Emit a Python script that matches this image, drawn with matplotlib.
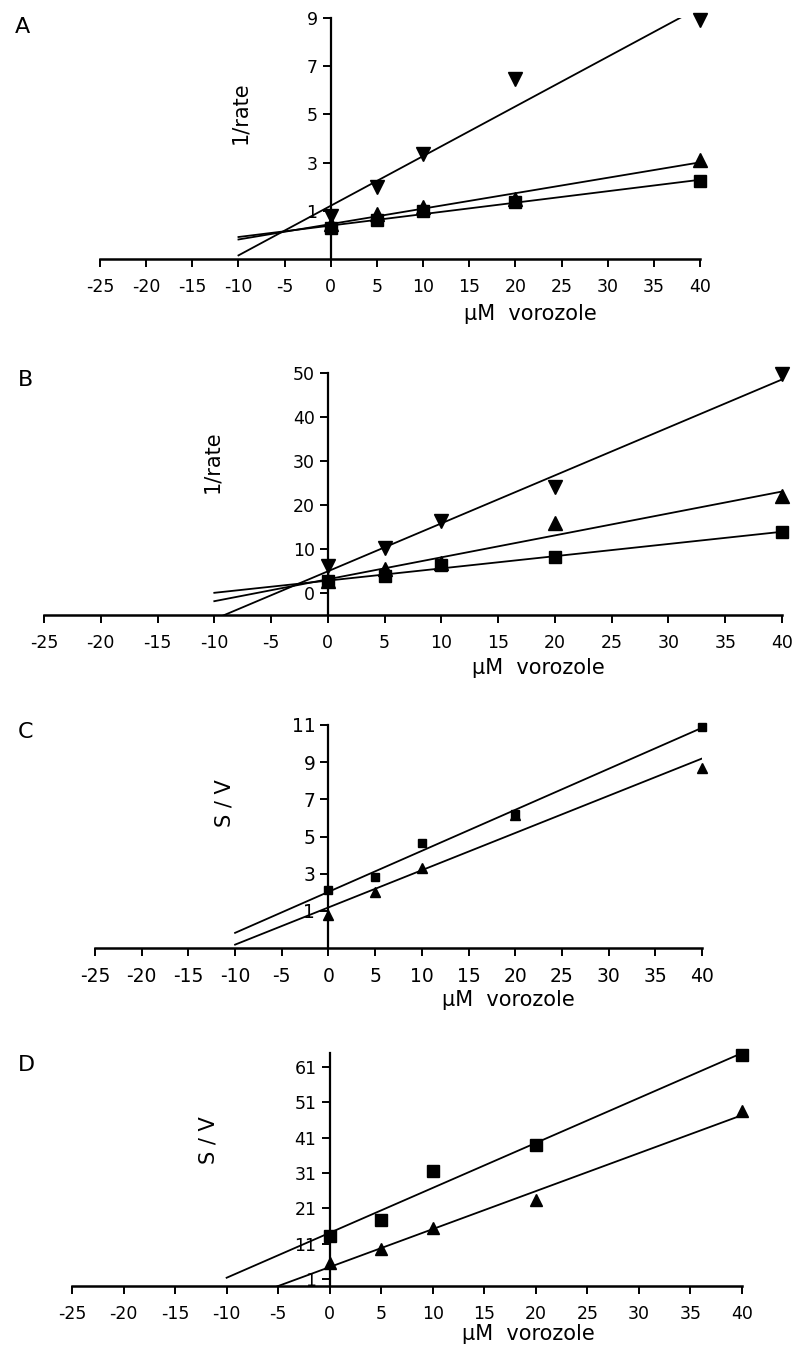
import numpy as np
import matplotlib.pyplot as plt

plt.rcParams['axes.unicode_minus'] = False

# vorozole concentrations (uM)
conc = [0, 5, 10, 20, 40]

# Panel A - 1/rate
a_down = [0.8, 2.0, 3.35, 6.45, 8.9]
a_up = [0.45, 0.85, 1.15, 1.5, 3.1]
a_sq = [0.3, 0.6, 1.0, 1.35, 2.25]

# Panel B - 1/rate
b_down = [6.1, 10.2, 16.3, 24.0, 49.8]
b_up = [2.8, 5.5, 6.8, 15.9, 22.0]
b_sq = [2.7, 3.8, 6.4, 8.1, 13.9]

# Panel C - S/V
c_sq = [2.1, 2.8, 4.66, 6.2, 10.9]
c_up = [0.77, 2.0, 3.3, 6.17, 8.7]

# Panel D - S/V
d_sq = [13.2, 17.6, 31.6, 39.0, 64.4]
d_up = [5.4, 9.6, 15.5, 23.5, 48.5]

xticks = list(range(-25, 45, 5))
a_yticks = [1, 3, 5, 7, 9]
b_yticks = [0, 10, 20, 30, 40, 50]
c_yticks = [1, 3, 5, 7, 9, 11]
d_yticks = [1, 11, 21, 31, 41, 51, 61]

W, H = 800, 1355
fig = plt.figure(figsize=(W / 100, H / 100), dpi=100)


def box(left, top, right, bottom):
    return [left / W, 1 - bottom / H, (right - left) / W, (bottom - top) / H]


def panel(rect, series, ylim, yticks, msize, lsize=12.5):
    ax = fig.add_axes(rect)
    xs = np.array(conc)
    fit_x = np.array([-10, 40])
    for ys, mk, ms in series:
        slope, icpt = np.polyfit(xs, np.array(ys), 1)
        ax.plot(fit_x, slope * fit_x + icpt, color='black', lw=1.3)
        ax.plot(xs, ys, linestyle='none', marker=mk, color='black',
                markersize=ms * msize, clip_on=False, zorder=5)
    ax.set_xlim(-25, 40)
    ax.set_ylim(*ylim)
    ax.set_xticks(xticks)
    ax.set_yticks(yticks)
    ax.spines['left'].set_position(('data', 0))
    ax.spines['top'].set_visible(False)
    ax.spines['right'].set_visible(False)
    ax.spines['left'].set_linewidth(1.6)
    ax.spines['bottom'].set_linewidth(1.8)
    ax.tick_params(direction='out', length=6, width=1.4, labelsize=lsize,
                   colors='black')
    ax.tick_params(axis='x', pad=8)
    ax.patch.set_alpha(0)
    return ax


panel(box(100, 18, 700, 259),
      [(a_down, 'v', 1.0), (a_up, '^', 1.0), (a_sq, 's', 0.85)],
      (-1, 9), a_yticks, 10)
panel(box(44, 373, 782, 615),
      [(b_down, 'v', 1.0), (b_up, '^', 1.0), (b_sq, 's', 0.85)],
      (-5, 50), b_yticks, 10)
panel(box(95, 725, 702, 948),
      [(c_sq, 's', 0.8), (c_up, '^', 1.0)],
      (-1, 11), c_yticks, 7, 13.5)
panel(box(72, 1053, 742, 1286),
      [(d_sq, 's', 1.0), (d_up, '^', 1.0)],
      (-1, 65), d_yticks, 8)

lab = dict(fontsize=15, color='black')
# panel letters
fig.text(15 / W, 1 - 27 / H, 'A', ha='left', va='center', fontsize=16)
fig.text(18 / W, 1 - 380 / H, 'B', ha='left', va='center', fontsize=16)
fig.text(18 / W, 1 - 732 / H, 'C', ha='left', va='center', fontsize=16)
fig.text(18 / W, 1 - 1065 / H, 'D', ha='left', va='center', fontsize=16)

# x labels
fig.text(530 / W, 1 - 314 / H, 'μM  vorozole', ha='center', va='center', **lab)
fig.text(538 / W, 1 - 668 / H, 'μM  vorozole', ha='center', va='center', **lab)
fig.text(508 / W, 1 - 1000 / H, 'μM  vorozole', ha='center', va='center', **lab)
fig.text(528 / W, 1 - 1334 / H, 'μM  vorozole', ha='center', va='center', **lab)

# y labels
fig.text(240 / W, 1 - 113 / H, '1/rate', rotation=90, ha='center', va='center', **lab)
fig.text(212 / W, 1 - 462 / H, '1/rate', rotation=90, ha='center', va='center', **lab)
fig.text(224 / W, 1 - 803 / H, 'S / V', rotation=90, ha='center', va='center', **lab)
fig.text(209 / W, 1 - 1140 / H, 'S / V', rotation=90, ha='center', va='center', **lab)

fig.savefig('out.png', dpi=100, facecolor='white')
